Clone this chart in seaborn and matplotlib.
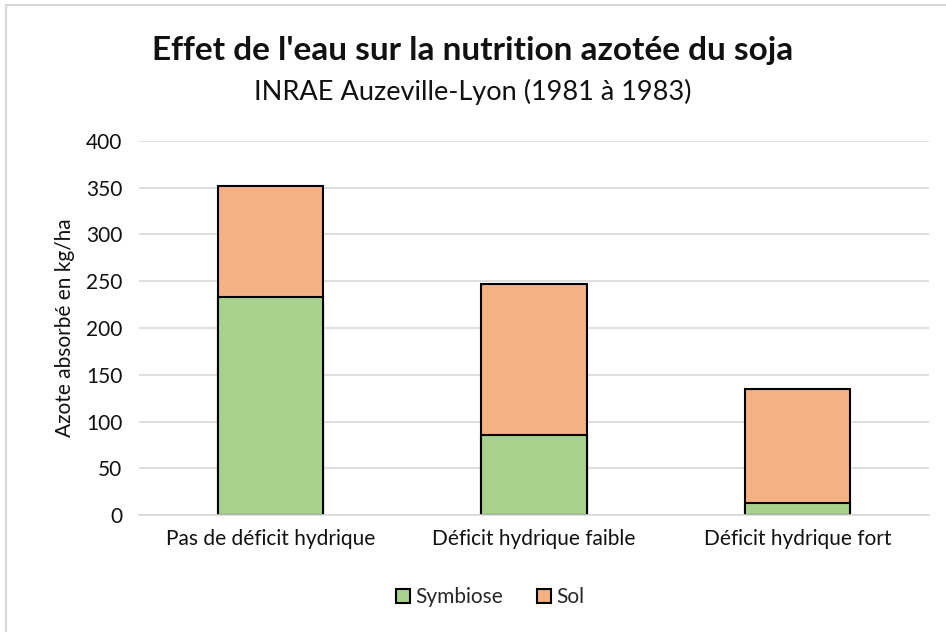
import pandas as pd
import matplotlib.pyplot as plt
import seaborn as sns
from matplotlib.patches import Patch, Rectangle

categories = ["Pas de déficit hydrique", "Déficit hydrique faible", "Déficit hydrique fort"]
symbiose = [233, 86, 13]
sol = [119, 161, 122]

df = pd.DataFrame({"cat": categories, "Symbiose": symbiose, "Sol": sol})
df["total"] = df["Symbiose"] + df["Sol"]

green = "#A9D18E"
orange = "#F4B183"

sns.set_style("white")
plt.rcParams["font.family"] = ["Lato", "DejaVu Sans"]

fig = plt.figure(figsize=(9.46, 6.32), dpi=100)
ax = fig.add_axes([0.147, 0.185, 0.835, 0.592])

# stacked: total first (Sol on top), then Symbiose over it
sns.barplot(data=df, x="cat", y="total", color=orange, width=0.4,
            edgecolor="black", linewidth=1.5, saturation=1, ax=ax)
sns.barplot(data=df, x="cat", y="Symbiose", color=green, width=0.4,
            edgecolor="black", linewidth=1.5, saturation=1, ax=ax)

ax.set_ylim(0, 400)
ax.set_yticks(range(0, 401, 50))
ax.set_xlim(-0.5, 2.5)
ax.yaxis.grid(True, color="#D9D9D9", linewidth=1.2)
ax.set_axisbelow(True)
for s in ["top", "right", "left"]:
    ax.spines[s].set_visible(False)
ax.spines["bottom"].set_color("#D9D9D9")
ax.spines["bottom"].set_linewidth(1.2)
ax.tick_params(axis="y", length=0, labelsize=15, colors="#111111", pad=12)
ax.tick_params(axis="x", length=0, labelsize=15, colors="#111111", pad=10)
ax.set_xlabel("")
ax.set_ylabel("Azote absorbé en kg/ha", fontsize=15, color="#111111", labelpad=8)

fig.text(0.5, 0.92, "Effet de l'eau sur la nutrition azotée du soja",
         ha="center", va="center", fontsize=24, fontweight="bold", color="#111111")
fig.text(0.5, 0.855, "INRAE Auzeville-Lyon (1981 à 1983)",
         ha="center", va="center", fontsize=19.5, color="#111111")

handles = [Patch(facecolor=green, edgecolor="black", linewidth=1.5, label="Symbiose"),
           Patch(facecolor=orange, edgecolor="black", linewidth=1.5, label="Sol")]
fig.legend(handles=handles, loc="center", bbox_to_anchor=(0.518, 0.055), ncol=2,
           frameon=False, fontsize=15, handlelength=0.7, handleheight=0.7,
           handletextpad=0.25, columnspacing=1.6)

fig.patches.append(Rectangle((0.006, -0.05), 1.1, 1.042, transform=fig.transFigure,
                             fill=False, edgecolor="#D9D9D9", linewidth=1.5))

fig.savefig("out.png", dpi=100)
